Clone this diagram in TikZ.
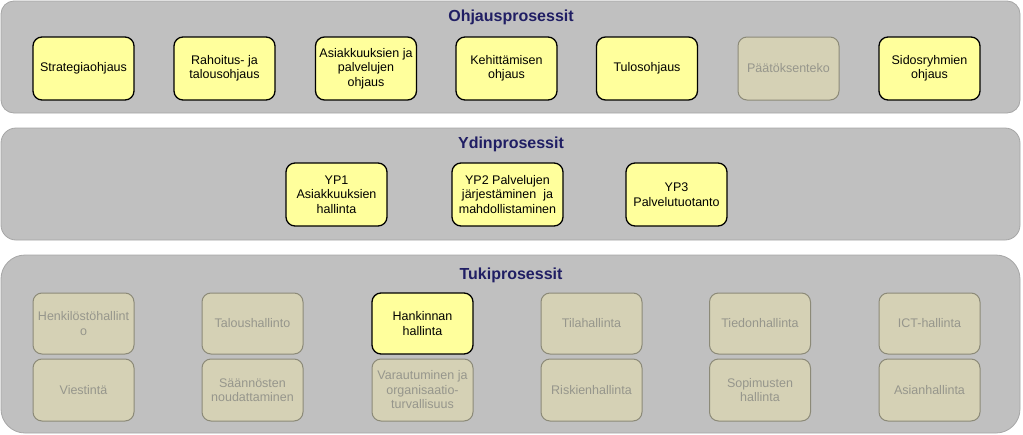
\documentclass[tikz,border=0pt]{standalone}
\usepackage{fontspec}
\setmainfont{Liberation Sans}
\definecolor{panelfill}{RGB}{192,192,192}
\definecolor{paneldraw}{RGB}{166,166,166}
\definecolor{yfill}{RGB}{255,255,156}
\definecolor{gfill}{RGB}{213,209,181}
\definecolor{gdraw}{RGB}{140,138,120}
\definecolor{gtext}{RGB}{150,150,140}
\definecolor{titlec}{RGB}{32,30,100}
\tikzset{
  panel/.style={fill=panelfill, draw=paneldraw, line width=0.8pt},
  ptitle/.style={font=\fontsize{16}{18}\selectfont\bfseries, text=titlec, inner sep=0pt},
  ybox/.style={fill=yfill, draw=black, line width=1.3pt, rounded corners=9pt,
    minimum width=101pt, minimum height=63pt, inner sep=0pt, align=center,
    font=\fontsize{12.5}{14.5}\selectfont},
  gbox/.style={fill=gfill, draw=gdraw, line width=1pt, rounded corners=9pt,
    minimum width=101pt, minimum height=62pt, inner sep=0pt, align=center,
    text=gtext, font=\fontsize{12.5}{14.5}\selectfont},
}
\begin{document}
\begin{tikzpicture}[x=1pt,y=-1pt]
\useasboundingbox (0,0) rectangle (1023,434);
% panels
\draw[panel, rounded corners=13pt] (1,1) rectangle (1020,113);
\draw[panel, rounded corners=15pt] (1,128) rectangle (1020,240);
\draw[panel, rounded corners=24pt] (1,255) rectangle (1020,433);
% titles
\node[ptitle] (t1) at (511,17) {Ohjausprosessit};
\node[ptitle] (t2) at (511,144.5) {Ydinprosessit};
\node[ptitle] (t3) at (511,275) {Tukiprosessit};
% Ohjausprosessit
\node[ybox] (o1) at (83.5,68.5) {Strategiaohjaus};
\node[ybox] (o2) at (224.5,68.5) {Rahoitus- ja\\talousohjaus};
\node[ybox] (o3) at (366,68.5) {Asiakkuuksien ja\\palvelujen\\ohjaus};
\node[ybox] (o4) at (506.5,68.5) {Kehittämisen\\ohjaus};
\node[ybox] (o5) at (647,68.5) {Tulosohjaus};
\node[gbox, minimum height=63pt] (o6) at (788.5,68.5) {Päätöksenteko};
\node[ybox] (o7) at (929.5,68.5) {Sidosryhmien\\ohjaus};
% Ydinprosessit
\node[ybox] (y1) at (336.5,194.5) {YP1\\Asiakkuuksien\\hallinta};
\node[ybox, minimum width=111pt] (y2) at (507.5,194.5) {YP2 Palvelujen\\järjestäminen\ \ ja\\mahdollistaminen};
\node[ybox] (y3) at (676.5,194.5) {YP3\\Palvelutuotanto};
% Tukiprosessit row 1
\node[gbox, minimum height=61pt] (a1) at (83.5,323.5) {Henkilöstöhallint\\o};
\node[gbox, minimum height=61pt] (a2) at (252.5,323.5) {Taloushallinto};
\node[ybox, minimum height=61pt] (a3) at (422.5,323.5) {Hankinnan\\hallinta};
\node[gbox, minimum height=61pt] (a4) at (591.5,323.5) {Tilahallinta};
\node[gbox, minimum height=61pt] (a5) at (760,323.5) {Tiedonhallinta};
\node[gbox, minimum height=61pt] (a6) at (929.5,323.5) {ICT-hallinta};
% Tukiprosessit row 2
\node[gbox] (b1) at (83.5,390) {Viestintä};
\node[gbox] (b2) at (252.5,390) {Säännösten\\noudattaminen};
\node[gbox] (b3) at (422.5,390) {Varautuminen ja\\organisaatio-\\turvallisuus};
\node[gbox] (b4) at (591.5,390) {Riskienhallinta};
\node[gbox] (b5) at (760,390) {Sopimusten\\hallinta};
\node[gbox] (b6) at (929.5,390) {Asianhallinta};
\end{tikzpicture}
\end{document}
